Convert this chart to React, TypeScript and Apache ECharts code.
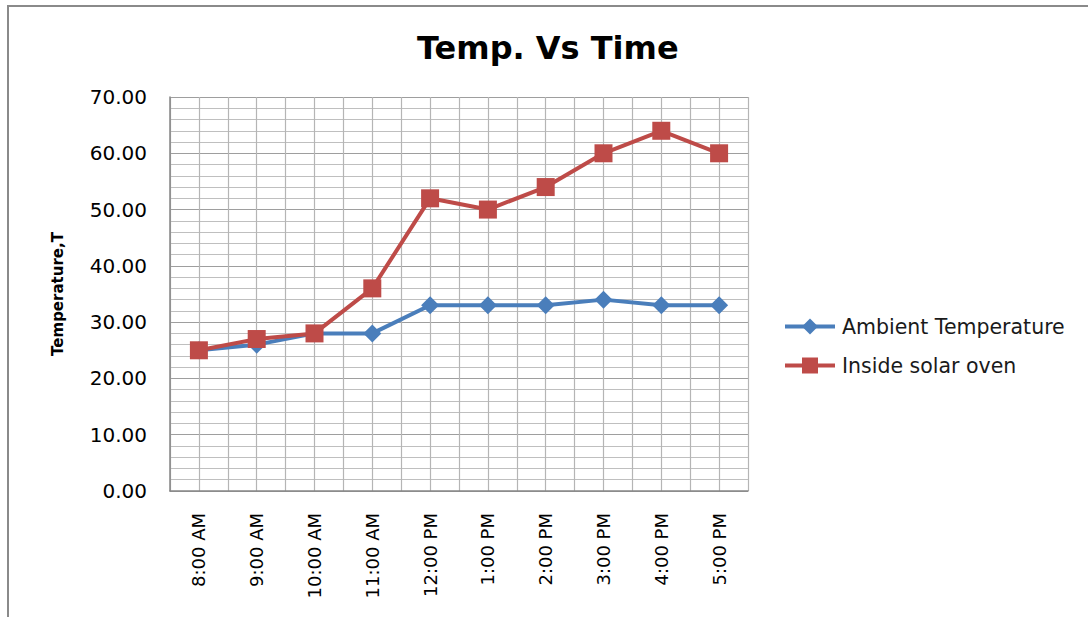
import React, { useEffect, useRef } from "react";
import * as echarts from "echarts";

const categories = ["8:00 AM", "9:00 AM", "10:00 AM", "11:00 AM", "12:00 PM", "1:00 PM", "2:00 PM", "3:00 PM", "4:00 PM", "5:00 PM"];
const ambient = [25, 26, 28, 28, 33, 33, 33, 34, 33, 33];
const oven = [25, 27, 28, 36, 52, 50, 54, 60, 64, 60];
const seriesNames = ["Ambient Temperature", "Inside solar oven"];
const titleText = "Temp. Vs Time";
const yName = "Temperature,T";

export default function App() {
  const ref = useRef<HTMLDivElement>(null);
  useEffect(() => {
    if (!ref.current) return;
    const chart = echarts.init(ref.current, null, { renderer: "svg" });
    const font = "DejaVu Sans";
    chart.setOption({
      animation: false,
      backgroundColor: "#ffffff",
      title: {
        text: titleText,
        left: 417,
        top: 32,
        padding: 0,
        textStyle: { fontFamily: font, fontWeight: "bold", fontSize: 32, color: "#000000" },
      },
      graphic: [
        {
          type: "rect",
          shape: { x: 8, y: 6, width: 1100, height: 700 },
          style: { fill: "none", stroke: "#8a8a8a", lineWidth: 2 },
          silent: true,
        },
      ],
      legend: {
        orient: "vertical",
        left: 783,
        top: 316,
        padding: 0,
        itemWidth: 50,
        itemHeight: 20,
        itemGap: 18,
        lineStyle: { width: 4 },
        textStyle: { fontFamily: font, fontSize: 20.5, color: "#1a1a1a", padding: [0, 0, 0, 2] },
        data: seriesNames,
      },
      grid: { left: 170, top: 97, right: 340, bottom: 126, containLabel: false },
      xAxis: [
        {
          type: "category",
          data: categories,
          boundaryGap: true,
          axisLine: { show: true, lineStyle: { color: "#868686", width: 1.5 } },
          axisTick: { show: false },
          splitLine: { show: false },
          axisLabel: {
            rotate: 90,
            margin: 22,
            interval: 0,
            fontFamily: font,
            fontSize: 18,
            color: "#000000",
          },
        },
        {
          type: "value",
          min: 0,
          max: 20,
          interval: 1,
          position: "bottom",
          axisLine: { show: false },
          axisTick: { show: false },
          axisLabel: { show: false },
          splitLine: { show: true, lineStyle: { color: "#b5b5b5", width: 1.2 } },
        },
      ],
      yAxis: {
        type: "value",
        min: 0,
        max: 70,
        interval: 10,
        name: yName,
        nameLocation: "middle",
        nameGap: 105,
        nameRotate: 90,
        nameTextStyle: { fontFamily: font, fontWeight: "bold", fontSize: 15, color: "#000000" },
        axisLine: { show: true, lineStyle: { color: "#868686", width: 1.5 } },
        axisTick: { show: false },
        minorTick: { show: false, splitNumber: 5 },
        minorSplitLine: { show: true, lineStyle: { color: "#bfbfbf", width: 1.2 } },
        splitLine: { show: true, lineStyle: { color: "#9e9e9e", width: 1.2 } },
        axisLabel: {
          margin: 23,
          fontFamily: font,
          fontSize: 20,
          color: "#000000",
          formatter: (v: number) => v.toFixed(2),
        },
      },
      series: [
        {
          name: seriesNames[0],
          type: "line",
          xAxisIndex: 0,
          data: ambient,
          symbol: "diamond",
          symbolSize: 18,
          itemStyle: { color: "#4a7ebb" },
          lineStyle: { color: "#4a7ebb", width: 4 },
        },
        {
          name: seriesNames[1],
          type: "line",
          xAxisIndex: 0,
          data: oven,
          symbol: "rect",
          symbolSize: 18,
          itemStyle: { color: "#be4b48" },
          lineStyle: { color: "#be4b48", width: 4 },
        },
      ],
    });
    return () => chart.dispose();
  }, []);
  return (
    <div
      ref={ref}
      style={{ position: "fixed", left: 0, top: 0, width: 1088, height: 617, background: "#fff" }}
    />
  );
}
